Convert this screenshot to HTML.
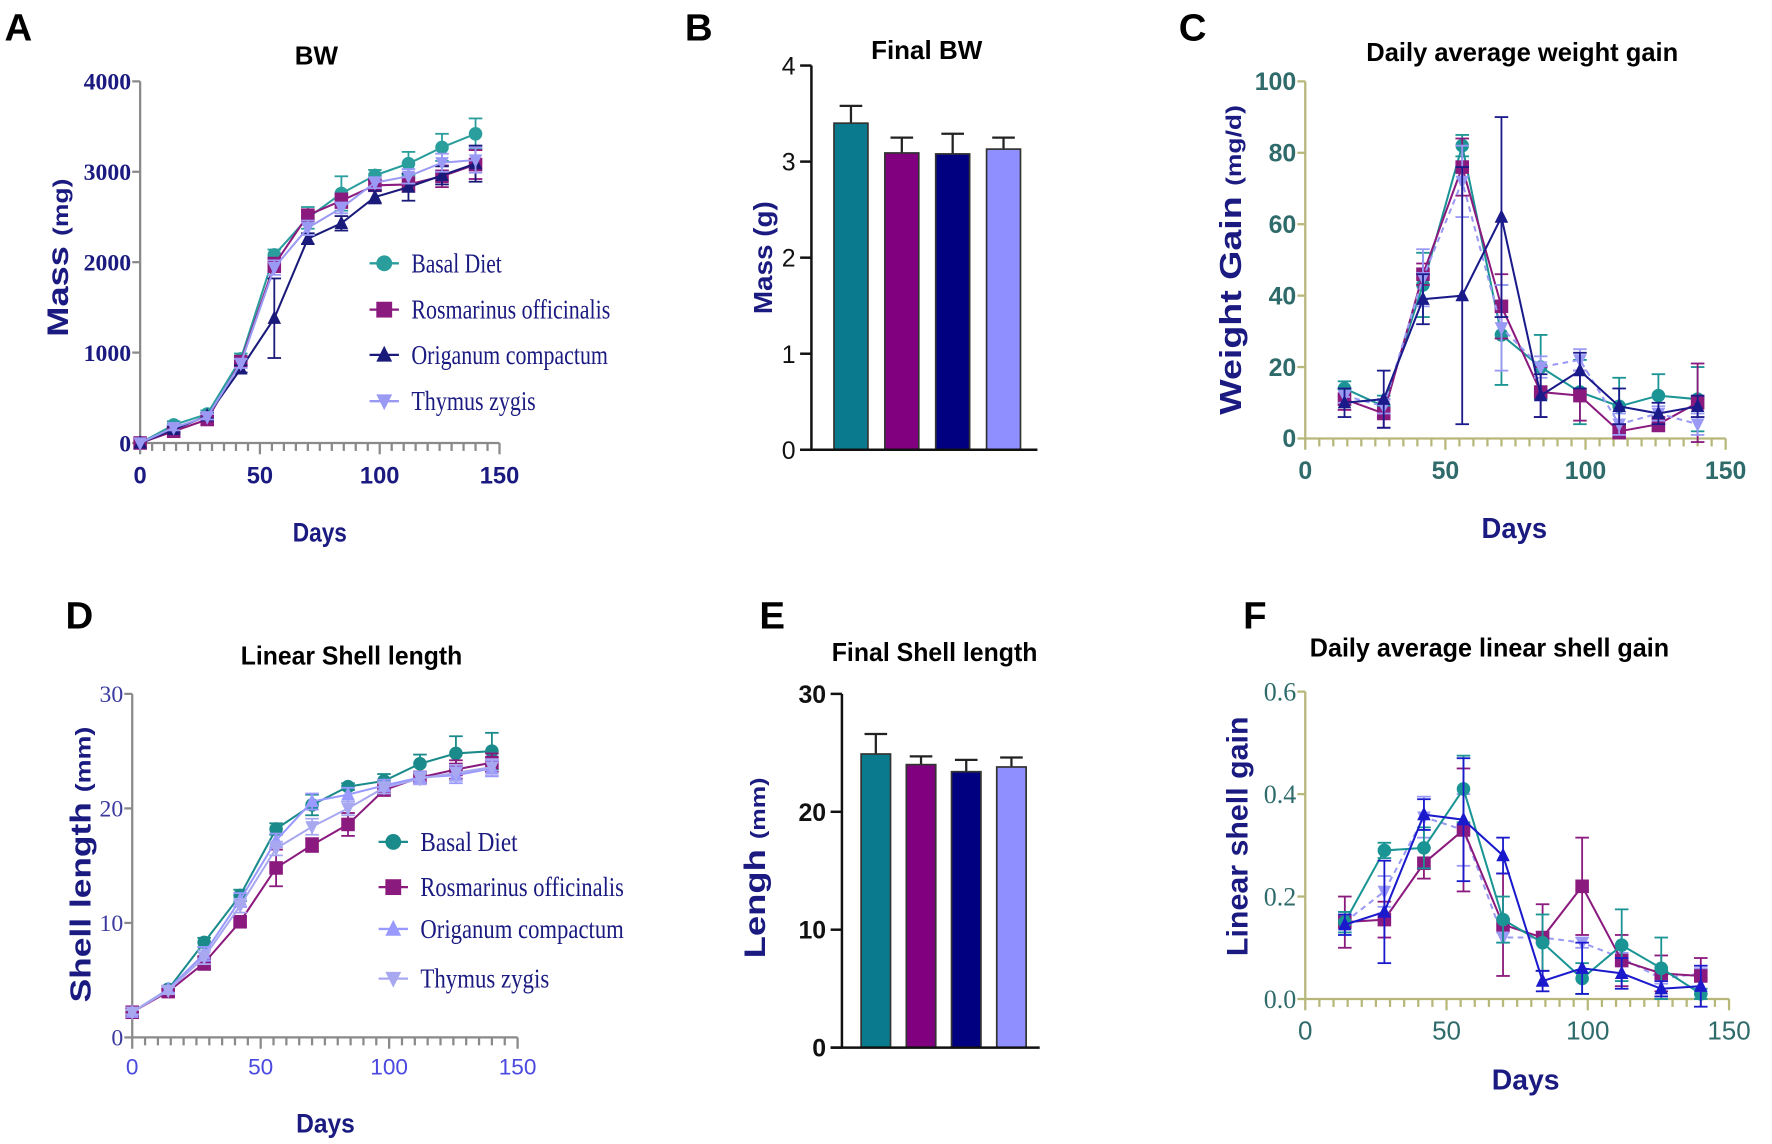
<!DOCTYPE html>
<html><head><meta charset="utf-8"><style>
html,body{margin:0;padding:0;background:#fff;}
svg{display:block;}
</style></head><body>
<svg id="fig" xmlns="http://www.w3.org/2000/svg" width="1772" height="1144" viewBox="0 0 1772 1144">
<rect width="1772" height="1144" fill="#fff"/>
<g id="wrap" transform="scale(1.1301)">
<g font-family="Liberation Sans, sans-serif" font-weight="bold" font-size="34" fill="#000">
<text x="4" y="36">A</text>
<text x="606" y="36">B</text>
<text x="1043" y="36">C</text>
<text x="58" y="556">D</text>
<text x="672" y="556">E</text>
<text x="1100" y="556">F</text>
</g>
<g font-family="Liberation Sans, sans-serif" font-weight="bold" font-size="23" fill="#000" text-anchor="middle">
<text x="280" y="57">BW</text>
<text x="820" y="52">Final BW</text>
<text x="1347" y="54" textLength="276" lengthAdjust="spacingAndGlyphs">Daily average weight gain</text>
<text x="311" y="588" textLength="196" lengthAdjust="spacingAndGlyphs">Linear Shell length</text>
<text x="827" y="585" textLength="182" lengthAdjust="spacingAndGlyphs">Final Shell length</text>
<text x="1318" y="581" textLength="318" lengthAdjust="spacingAndGlyphs">Daily average linear shell gain</text>
</g>
<g id="plots"></g>
</g>
</svg>
<script>
// ---------- Panel A data (BW, mg) ----------
const daysA = [0,14,28,42,56,70,84,98,112,126,140];
const bwBasal = [0,200,320,930,2080,2490,2760,2960,3090,3270,3420];
const bwRos   = [0,130,260,900,1970,2520,2680,2850,2860,2950,3080];
const bwOrig  = [0,150,300,820,1380,2260,2430,2720,2830,2960,3090];
const bwThym  = [0,170,290,880,1940,2380,2600,2880,2950,3100,3130];
const bwBasalErr = [0,40,40,60,60,120,190,60,130,150,170];
const bwRosErr   = [0,30,30,50,80,60,80,50,80,120,160];
const bwOrigErr  = [0,30,30,40,440,60,80,70,150,100,200];
const bwThymErr  = [0,30,30,50,80,80,60,60,80,100,140];
// ---------- Panel B data (Final BW, g) ----------
const groups = ["Basal Diet","Rosmarinus officinalis","Origanum compactum","Thymus zygis"];
const finalBW = [3.4,3.09,3.08,3.13];
const finalBWErr = [0.18,0.16,0.21,0.12];
// ---------- Panel C data (daily weight gain, mg/d) ----------
const daysC = [14,28,42,56,70,84,98,112,126,140];
const wgBasal = [14,9,43,82,29,20,13,9,12,11];
const wgRos   = [11,7,46,76,37,13,12,2,4,10];
const wgOrig  = [10,11,39,40,62,12,19,9,7,9];
const wgThym  = [12,9,45,72,31,20,22,4,7,4];
const wgBasalErr = [2,3,9,3,14,9,9,8,6,9];
const wgRosErr   = [3,4,3,8,9,7,7,2,2,11];
const wgOrigErr  = [4,8,7,36,28,6,5,5,3,3];
const wgThymErr  = [2,2,8,10,12,3,3,3,2,3];
// ---------- Panel D data (shell length, mm) ----------
const slBasal = [2.2,4.2,8.3,12.4,18.2,20.3,21.9,22.4,23.9,24.8,25.0];
const slRos   = [2.2,4.0,6.5,10.1,14.8,16.8,18.6,21.6,22.7,23.4,24.0];
const slOrig  = [2.2,4.2,7.3,12.0,17.2,20.6,21.2,22.0,22.7,22.9,23.5];
const slThym  = [2.2,4.1,7.0,11.5,16.5,18.4,20.0,21.8,22.6,23.1,23.6];
const slBasalErr = [0.2,0.3,0.4,0.5,0.5,0.9,0.3,0.6,0.8,1.5,1.6];
const slRosErr   = [0.2,0.3,0.6,0.4,1.6,0.6,1.0,0.4,0.5,0.8,0.8];
const slOrigErr  = [0.2,0.3,0.6,0.6,0.6,0.7,0.6,0.5,0.5,0.7,0.7];
const slThymErr  = [0.2,0.3,0.6,0.6,0.6,0.7,0.6,0.5,0.5,0.7,0.7];
// ---------- Panel E data (Final shell length, mm) ----------
const finalSL = [24.9,24.0,23.4,23.8];
const finalSLErr = [1.7,0.7,1.0,0.8];
// ---------- Panel F data (daily linear shell gain) ----------
const lgBasal = [0.15,0.29,0.295,0.41,0.155,0.11,0.04,0.105,0.06,0.01];
const lgRos   = [0.15,0.155,0.265,0.33,0.145,0.12,0.22,0.075,0.05,0.045];
const lgOrig  = [0.145,0.17,0.36,0.35,0.28,0.035,0.06,0.05,0.02,0.025];
const lgThym  = [0.15,0.21,0.355,0.33,0.12,0.12,0.11,0.08,0.04,0.05];
const lgBasalErr = [0.02,0.015,0.04,0.065,0.045,0.055,0.03,0.07,0.06,0.01];
const lgRosErr   = [0.05,0.035,0.03,0.12,0.1,0.065,0.095,0.05,0.035,0.035];
const lgOrigErr  = [0.02,0.1,0.03,0.12,0.035,0.02,0.05,0.03,0.015,0.04];
const lgThymErr  = [0.02,0.03,0.04,0.07,0.01,0.01,0.01,0.01,0.01,0.01];

const NS = "http://www.w3.org/2000/svg";
const root = document.getElementById('plots');
function mk(tag, attrs, parent){
  const e = document.createElementNS(NS, tag);
  for (const k in attrs) e.setAttribute(k, attrs[k]);
  (parent||root).appendChild(e);
  return e;
}
function marker(g, type, x, y, color, size){
  const s = size||7;
  let e;
  if (type==='circle') e = mk('circle',{cx:x,cy:y,r:s,fill:color},g);
  else if (type==='square') e = mk('rect',{x:x-s,y:y-s,width:2*s,height:2*s,fill:color},g);
  else if (type==='up') e = mk('polygon',{points:`${x},${y-s-1} ${x-s},${y+s-1} ${x+s},${y+s-1}`,fill:color},g);
  else e = mk('polygon',{points:`${x},${y+s+1} ${x-s},${y-s+1} ${x+s},${y-s+1}`,fill:color},g);
  return e;
}

function linePanel(p){
  const g = mk('g',{});
  
  
  const sx = v => p.px0 + (v - 0)/(p.xmax) * (p.px1 - p.px0);
  const sy = v => p.py0 - (v - p.ymin)/(p.ymax - p.ymin) * (p.py0 - p.py1);
  const ax = mk('g',{stroke:p.axisColor,'stroke-width':2,fill:'none'},g);
  
  
  mk('line',{x1:p.px0,y1:p.py0,x2:p.px0,y2:p.py1},ax);
  mk('line',{x1:p.px0,y1:p.py0,x2:p.px1,y2:p.py0},ax);
  for (let d=0; d<=p.xmax; d+=5){
    const major = d%50===0;
    mk('line',{x1:sx(d),y1:p.py0,x2:sx(d),y2:p.py0+(major?10:7)},ax);
  }
  p.yticks.forEach(v=>{
    mk('line',{x1:p.px0-7,y1:sy(v),x2:p.px0,y2:sy(v)},ax);
    const t = mk('text',{x:p.px0-8,y:sy(v)+p.yfs*0.35,'text-anchor':'end','font-family':p.yfont,'font-weight':p.ybold?'bold':'normal','font-size':p.yfs,fill:p.ytickColor,stroke:'none'},g);
    t.textContent = p.yfmt(v);
    
    
  });
  [0,50,100,150].forEach(v=>{
    const t = mk('text',{x:sx(v),y:p.py0+p.xlabOff,'text-anchor':'middle','font-family':p.xfont,'font-weight':p.xbold?'bold':'normal','font-size':p.xfs,fill:p.xtickColor},g);
    t.textContent = String(v);
    
    
  });
  p.series.forEach(s=>{
    const sg = mk('g',{},g);
    
    
    s.errs.forEach((er,i)=>{
      const x = sx(p.days[i]), yv = s.vals[i];
      if (er<=0) return;
      const eg = mk('g',{stroke:s.color,'stroke-width':1.6},sg);
      mk('line',{x1:x,y1:sy(yv-er),x2:x,y2:sy(yv+er)},eg);
      mk('line',{x1:x-6,y1:sy(yv+er),x2:x+6,y2:sy(yv+er)},eg);
      mk('line',{x1:x-6,y1:sy(yv-er),x2:x+6,y2:sy(yv-er)},eg);
    });
    const pts = s.vals.map((v,i)=>`${sx(p.days[i])},${sy(v)}`).join(' ');
    const pl = mk('polyline',{points:pts,fill:'none',stroke:s.color,'stroke-width':1.8,'stroke-dasharray':s.dashed?'5,4':'none'},sg);
    
    
    s.vals.forEach((v,i)=>{
      const m = marker(sg, s.marker, sx(p.days[i]), sy(v), s.color, p.msize);
      
      
    });
  });
  if (p.legend){
    p.series.forEach((s,i)=>{
      const lg = mk('g',{},g);
      
      
      const y = p.legend.ys[i];
      mk('line',{x1:p.legend.x-13,y1:y,x2:p.legend.x+13,y2:y,stroke:s.lcolor||s.color,'stroke-width':2},lg);
      marker(lg, s.marker, p.legend.x, y, s.lcolor||s.color, 7);
      const t = mk('text',{x:p.legend.x+24,y:y+8,'font-family':'Liberation Serif, serif','font-size':24,fill:'#1a1a80',textLength:s.tl,lengthAdjust:'spacingAndGlyphs'},lg);
      t.textContent = s.label;
    });
  }
  return g;
}

function barPanel(p){
  const g = mk('g',{});
  
  
  const sy = v => p.py0 - v/p.ymax*(p.py0-p.py1);
  const colors = ['#0a7b8e','#800080','#000080','#8f8fff'];
  p.vals.forEach((v,i)=>{
    const x = p.bx[0] + i*p.step;
    const e = p.errs[i];
    const eg = mk('g',{stroke:'#222','stroke-width':2},g);
    mk('line',{x1:x+p.bw/2,y1:sy(v),x2:x+p.bw/2,y2:sy(v+e)},eg);
    mk('line',{x1:x+p.bw/2-10,y1:sy(v+e),x2:x+p.bw/2+10,y2:sy(v+e)},eg);
    const r = mk('rect',{x:x,y:sy(v),width:p.bw,height:p.py0-sy(v),fill:colors[i],stroke:'#333','stroke-width':1.5},g);
    
    
  });
  const ax = mk('g',{stroke:'#111','stroke-width':2.2},g);
  mk('line',{x1:p.px0,y1:p.py0,x2:p.px0,y2:p.py1},ax);
  mk('line',{x1:p.px0-10,y1:p.py0,x2:p.px1,y2:p.py0},ax);
  p.yticks.forEach(v=>{
    mk('line',{x1:p.px0-10,y1:sy(v),x2:p.px0,y2:sy(v)},ax);
    const t = mk('text',{x:p.px0-14,y:sy(v)+8,'text-anchor':'end','font-family':'Liberation Sans, sans-serif','font-weight':p.tbold?'bold':'normal','font-size':22,fill:'#111'},g);
    t.textContent = String(v);
    
    
  });
}

const navy = '#1a1a80';
linePanel({name:'chart-bw', px0:124, px1:442, py0:392, py1:72, xmax:150, ymin:0, ymax:4000, days:daysA,
  yticks:[0,1000,2000,3000,4000], yfmt:v=>String(v), yfont:'Liberation Serif, serif', ybold:true, yfs:21, ytickColor:navy,
  xfont:'Liberation Sans, sans-serif', xbold:true, xfs:21, xtickColor:navy, xlabOff:36, axisColor:'#8a8a8a', msize:6,
  series:[
    {key:'basal',label:'Basal Diet',vals:bwBasal,errs:bwBasalErr,color:'#2a9d9d',marker:'circle',tl:80},
    {key:'ros',label:'Rosmarinus officinalis',vals:bwRos,errs:bwRosErr,color:'#8b1a7e',marker:'square',tl:176},
    {key:'orig',label:'Origanum compactum',vals:bwOrig,errs:bwOrigErr,color:'#1a1a7a',marker:'up',tl:174},
    {key:'thym',label:'Thymus zygis',vals:bwThym,errs:bwThymErr,color:'#9a9af5',marker:'down',tl:110}],
  legend:{x:340, ys:[233,274,314,355]}});

linePanel({name:'chart-weight-gain', px0:1155, px1:1527, py0:388, py1:72, xmax:150, ymin:0, ymax:100, days:daysC,
  yticks:[0,20,40,60,80,100], yfmt:v=>String(v), yfont:'Liberation Sans, sans-serif', ybold:true, yfs:22, ytickColor:'#2f6b6b',
  xfont:'Liberation Sans, sans-serif', xbold:true, xfs:22, xtickColor:'#2f6b6b', xlabOff:36, axisColor:'#b7b77a', msize:6,
  series:[
    {key:'basal',vals:wgBasal,errs:wgBasalErr,color:'#1a9494',marker:'circle'},
    {key:'ros',vals:wgRos,errs:wgRosErr,color:'#8b1a7e',marker:'square'},
    {key:'thym',vals:wgThym,errs:wgThymErr,color:'#9a9af5',marker:'down',dashed:true},
    {key:'orig',vals:wgOrig,errs:wgOrigErr,color:'#1a1a8a',marker:'up'}]});

linePanel({name:'chart-shell-length', px0:117, px1:458, py0:918, py1:614, xmax:150, ymin:0, ymax:30, days:daysA,
  yticks:[0,10,20,30], yfmt:v=>String(v), yfont:'Liberation Serif, serif', ybold:false, yfs:21, ytickColor:'#3a3aa0',
  xfont:'Liberation Sans, sans-serif', xbold:false, xfs:20, xtickColor:'#4a4ae0', xlabOff:33, axisColor:'#8a8a8a', msize:6,
  series:[
    {key:'basal',label:'Basal Diet',vals:slBasal,errs:slBasalErr,color:'#1a8a8a',marker:'circle',tl:86},
    {key:'ros',label:'Rosmarinus officinalis',vals:slRos,errs:slRosErr,color:'#8b1a7e',marker:'square',tl:180},
    {key:'orig',label:'Origanum compactum',vals:slOrig,errs:slOrigErr,color:'#9999ff',marker:'up',tl:180},
    {key:'thym',label:'Thymus zygis',vals:slThym,errs:slThymErr,color:'#a8a8f0',marker:'down',tl:114}],
  legend:{x:348, ys:[745,785,822,866]}});

linePanel({name:'chart-shell-gain', px0:1155, px1:1530, py0:884, py1:612, xmax:150, ymin:0, ymax:0.6, days:daysC,
  yticks:[0,0.2,0.4,0.6], yfmt:v=>v.toFixed(1), yfont:'Liberation Serif, serif', ybold:false, yfs:23, ytickColor:'#2f6b6b',
  xfont:'Liberation Sans, sans-serif', xbold:false, xfs:23, xtickColor:'#2f6b6b', xlabOff:36, axisColor:'#b7b77a', msize:6,
  series:[
    {key:'thym',vals:lgThym,errs:lgThymErr,color:'#9a9af5',marker:'down',dashed:true},
    {key:'ros',vals:lgRos,errs:lgRosErr,color:'#8b1a7e',marker:'square'},
    {key:'basal',vals:lgBasal,errs:lgBasalErr,color:'#1a9494',marker:'circle'},
    {key:'orig',vals:lgOrig,errs:lgOrigErr,color:'#1a1acc',marker:'up'}]});

barPanel({name:'chart-final-bw', px0:718, px1:918, py0:398, py1:58, ymax:4, yticks:[0,1,2,3,4],
  vals:finalBW, errs:finalBWErr, bx:[738], bw:30, step:45, tbold:false});
barPanel({name:'chart-final-shell-length', px0:745, px1:920, py0:927, py1:614, ymax:30, yticks:[0,10,20,30],
  vals:finalSL, errs:finalSLErr, bx:[762], bw:26, step:40, tbold:true});
</script>
<script>
(function(){
const wrap=document.getElementById('wrap');
const NS="http://www.w3.org/2000/svg";
function lab(name,x,y,txt,size,color,rot,tl,extra){
  const t=document.createElementNS(NS,'text');
  t.setAttribute('x',x);t.setAttribute('y',y);
  t.setAttribute('font-family','Liberation Sans, sans-serif');
  t.setAttribute('font-weight','bold');t.setAttribute('font-size',size);
  t.setAttribute('fill',color);t.setAttribute('text-anchor','middle');
  if(rot) t.setAttribute('transform',`rotate(-90 ${x} ${y})`);
  if(tl){t.setAttribute('textLength',tl);t.setAttribute('lengthAdjust','spacingAndGlyphs');}
  t.textContent=txt;
  if(extra){const ts=document.createElementNS(NS,'tspan');ts.setAttribute('font-size',extra.size);ts.textContent=extra.t;t.appendChild(ts);}
  
  
  wrap.appendChild(t);
}
lab('x-axis-title-a',283,479,'Days',24,'#1a1a80',false,48);
lab('y-axis-title-a',60,228,'Mass ',26,'#1a1a80',true,140,{t:'(mg)',size:19});
lab('y-axis-title-b',683,228,'Mass (g)',23,'#1a1a80',true,100);
lab('x-axis-title-c',1340,476,'Days',25,'#1a1a80',false,58);
lab('y-axis-title-c',1098,230,'Weight Gain ',27,'#1a1a80',true,274,{t:'(mg/d)',size:19});
lab('x-axis-title-d',288,1002,'Days',24,'#1a1a80',false,52);
lab('y-axis-title-d',80,765,'Shell length  ',25,'#1a1a80',true,244,{t:'(mm)',size:19});
lab('y-axis-title-e',677,768,'Lengh ',26,'#1a1a80',true,160,{t:'(mm)',size:18});
lab('x-axis-title-f',1350,964,'Days',25,'#1a1a80',false,60);
lab('y-axis-title-f',1104,740,'Linear shell gain',26,'#1a1a80',true,212);
})();
</script>
</body></html>
